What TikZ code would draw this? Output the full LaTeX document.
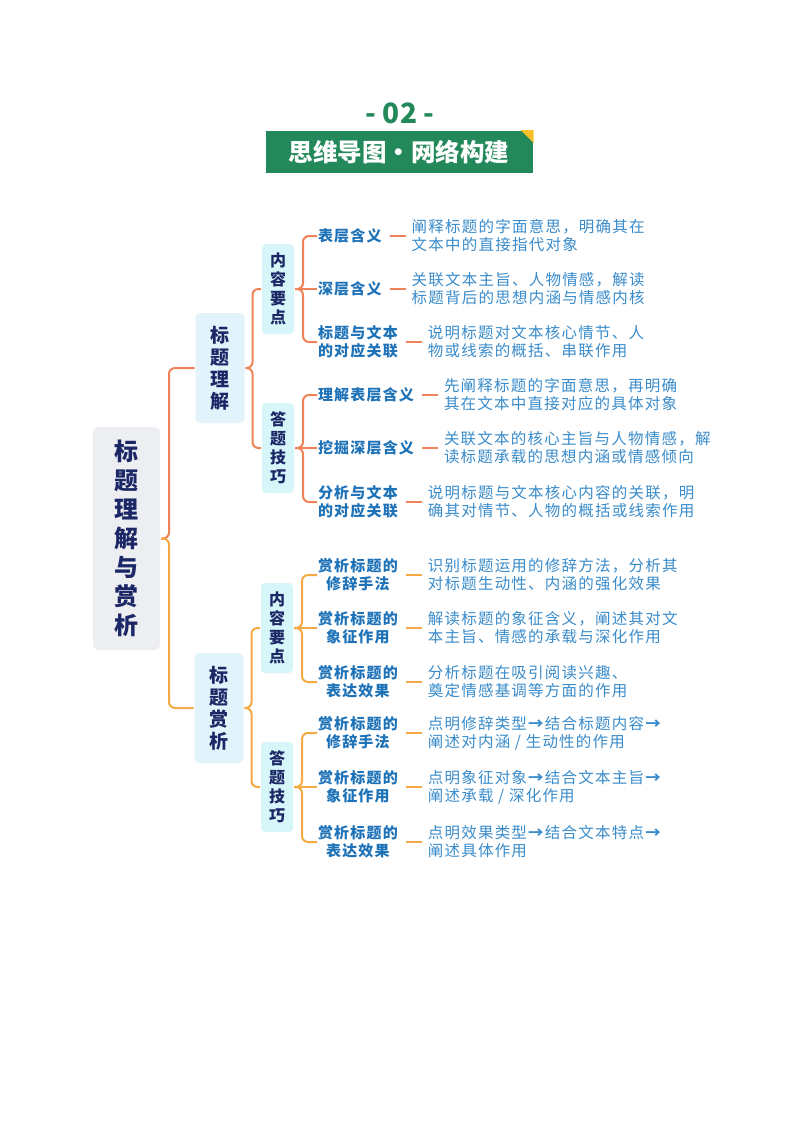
\documentclass[tikz,border=0pt]{standalone}
\usepackage{fontspec}
\setmainfont{Noto Sans CJK SC}
\newfontfamily\spacedfont[LetterSpace=8]{Noto Sans CJK SC}
\usetikzlibrary{positioning}
\definecolor{hdgreen}{HTML}{23895A}
\definecolor{hdyellow}{HTML}{F7C02B}
\definecolor{navy}{HTML}{1C2766}
\definecolor{lineA}{HTML}{EF8259}
\definecolor{lineB}{HTML}{F5A945}
\definecolor{leafblue}{HTML}{1E72B8}
\definecolor{descblue}{HTML}{3A8CCB}
\definecolor{rootgray}{HTML}{EDEEF2}
\definecolor{topicblue}{HTML}{E3F3FC}
\definecolor{subcyan}{HTML}{D6F6F9}
\tikzset{every picture/.style={line width=2pt},
  rootbox/.style={fill=rootgray, rounded corners=6pt, text=navy, align=center, font=\fontsize{24}{29}\selectfont\bfseries, minimum width=67pt, minimum height=223pt},
  topicbox/.style={fill=topicblue, rounded corners=5pt, text=navy, align=center, font=\fontsize{19}{22}\selectfont\bfseries, minimum width=49pt, minimum height=110pt},
  subbox/.style={fill=subcyan, rounded corners=4pt, text=navy, align=center, font=\fontsize{16}{19}\selectfont\bfseries, minimum width=32pt, minimum height=90pt},
  leaf/.style={anchor=west, inner sep=0pt, text=leafblue, align=center, font=\spacedfont\fontsize{15}{18}\selectfont\bfseries},
  desc/.style={inner sep=0pt, text=descblue, align=left, font=\spacedfont\fontsize{15.5}{18}\selectfont},
  brA/.style={draw=lineA, rounded corners=6pt},
  brB/.style={draw=lineB, rounded corners=6pt},
  tickA/.style={draw=lineA},
  tickB/.style={draw=lineB}
}
\begin{document}
\begin{tikzpicture}[x=1pt, y=-1pt, node distance=28pt]
          \fill[white] (0,0) rectangle (800,1132);
          \node[text=hdgreen, font=\fontsize{28}{30}\selectfont\bfseries] (hdnum) at (400,113) {-\hspace{6pt}0\hspace{1pt}2\hspace{6pt}-};
          \node[fill=hdgreen, text=white, font=\fontsize{24.5}{27}\selectfont\bfseries, minimum width=267pt, minimum height=42pt] (banner) at (399,152) {思维导图・网络构建};
          \fill[hdyellow] (banner.north east) -- ++(-13,0) -- ++(13,13) -- cycle;

          \node[rootbox] (root) at (126.5,538.5) {标\\题\\理\\解\\与\\赏\\析};
          \node[topicbox] (lijie) at (220,368) {标\\题\\理\\解};
          \node[topicbox] (shangxi) at (219,708) {标\\题\\赏\\析};
          \node[subbox] (ljYao) at (278,289) {内\\容\\要\\点};
          \node[subbox] (ljJi) at (278,448) {答\\题\\技\\巧};
          \node[subbox] (sxYao) at (277,628) {内\\容\\要\\点};
          \node[subbox] (sxJi) at (277,787) {答\\题\\技\\巧};

          \node[leaf] (ljA) at (317,236) {表层含义};
          \node[leaf] (ljB) at (317,289) {深层含义};
          \node[leaf] (ljC) at (317,342) {标题与文本\\的对应关联};
          \node[leaf] (ljD) at (317,395) {理解表层含义};
          \node[leaf] (ljE) at (317,448) {挖掘深层含义};
          \node[leaf] (ljF) at (317,502) {分析与文本\\的对应关联};
          \node[leaf] (sxA) at (317,575) {赏析标题的\\修辞手法};
          \node[leaf] (sxB) at (317,628) {赏析标题的\\象征作用};
          \node[leaf] (sxC) at (317,682) {赏析标题的\\表达效果};
          \node[leaf] (sxD) at (317,733) {赏析标题的\\修辞手法};
          \node[leaf] (sxE) at (317,787) {赏析标题的\\象征作用};
          \node[leaf] (sxF) at (317,842) {赏析标题的\\表达效果};

          \node[desc, right=of ljA] (dljA) {阐释标题的字面意思，明确其在\\文本中的直接指代对象};
          \node[desc, right=of ljB] (dljB) {关联文本主旨、人物情感，解读\\标题背后的思想内涵与情感内核};
          \node[desc, right=of ljC] (dljC) {说明标题对文本核心情节、人\\物或线索的概括、串联作用};
          \node[desc, right=of ljD] (dljD) {先阐释标题的字面意思，再明确\\其在文本中直接对应的具体对象};
          \node[desc, right=of ljE] (dljE) {关联文本的核心主旨与人物情感，解\\读标题承载的思想内涵或情感倾向};
          \node[desc, right=of ljF] (dljF) {说明标题与文本核心内容的关联，明\\确其对情节、人物的概括或线索作用};
          \node[desc, right=of sxA] (dsxA) {识别标题运用的修辞方法，分析其\\对标题生动性、内涵的强化效果};
          \node[desc, right=of sxB] (dsxB) {解读标题的象征含义，阐述其对文\\本主旨、情感的承载与深化作用};
          \node[desc, right=of sxC] (dsxC) {分析标题在吸引阅读兴趣、\\奠定情感基调等方面的作用};
          \node[desc, right=of sxD] (dsxD) {点明修辞类型\textbf{→}结合标题内容\textbf{→}\\阐述对内涵\ /\ 生动性的作用};
          \node[desc, right=of sxE] (dsxE) {点明象征对象\textbf{→}结合文本主旨\textbf{→}\\阐述承载\ /\ 深化作用};
          \node[desc, right=of sxF] (dsxF) {点明效果类型\textbf{→}结合文本特点\textbf{→}\\阐述具体作用};

          \draw[brA] (root.east) -- ++(8,0) |- (lijie.west);
          \draw[brB] (root.east) -- ++(8,0) |- (shangxi.west);
          \draw[brA] (lijie.east) -- ++(7,0) |- (ljYao.west);
          \draw[brA] (lijie.east) -- ++(7,0) |- (ljJi.west);
          \draw[brB] (shangxi.east) -- ++(7,0) |- (sxYao.west);
          \draw[brB] (shangxi.east) -- ++(7,0) |- (sxJi.west);

          \draw[brA] (ljYao.east) -- ++(8,0) |- (ljA.west);
          \draw[brA] (ljYao.east) -- (ljB.west);
          \draw[brA] (ljYao.east) -- ++(8,0) |- (ljC.west);
          \draw[brA] (ljJi.east) -- ++(8,0) |- (ljD.west);
          \draw[brA] (ljJi.east) -- (ljE.west);
          \draw[brA] (ljJi.east) -- ++(8,0) |- (ljF.west);
          \draw[brB] (sxYao.east) -- ++(8,0) |- (sxA.west);
          \draw[brB] (sxYao.east) -- (sxB.west);
          \draw[brB] (sxYao.east) -- ++(8,0) |- (sxC.west);
          \draw[brB] (sxJi.east) -- ++(8,0) |- (sxD.west);
          \draw[brB] (sxJi.east) -- (sxE.west);
          \draw[brB] (sxJi.east) -- ++(8,0) |- (sxF.west);

          \draw[tickA] ([xshift=7pt]ljA.east) -- ([xshift=-5pt]dljA.west);
          \draw[tickA] ([xshift=7pt]ljB.east) -- ([xshift=-5pt]dljB.west);
          \draw[tickA] ([xshift=7pt]ljC.east) -- ([xshift=-5pt]dljC.west);
          \draw[tickA] ([xshift=7pt]ljD.east) -- ([xshift=-5pt]dljD.west);
          \draw[tickA] ([xshift=7pt]ljE.east) -- ([xshift=-5pt]dljE.west);
          \draw[tickA] ([xshift=7pt]ljF.east) -- ([xshift=-5pt]dljF.west);
          \draw[tickB] ([xshift=7pt]sxA.east) -- ([xshift=-5pt]dsxA.west);
          \draw[tickB] ([xshift=7pt]sxB.east) -- ([xshift=-5pt]dsxB.west);
          \draw[tickB] ([xshift=7pt]sxC.east) -- ([xshift=-5pt]dsxC.west);
          \draw[tickB] ([xshift=7pt]sxD.east) -- ([xshift=-5pt]dsxD.west);
          \draw[tickB] ([xshift=7pt]sxE.east) -- ([xshift=-5pt]dsxE.west);
          \draw[tickB] ([xshift=7pt]sxF.east) -- ([xshift=-5pt]dsxF.west);
        \end{tikzpicture}
\end{document}
